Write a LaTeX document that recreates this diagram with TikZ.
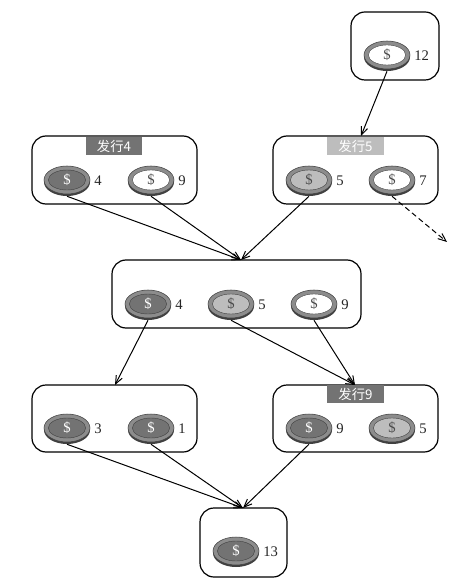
\documentclass[tikz,border=0pt]{standalone}
\usepackage{fontspec}
\setmainfont{Liberation Serif}
\newfontfamily\cjk{Noto Sans CJK SC}
\usetikzlibrary{shapes.geometric,arrows.meta}
\definecolor{darkfill}{gray}{0.45}
\definecolor{midfill}{gray}{0.74}
\definecolor{ringc}{gray}{0.55}
\definecolor{edgec}{gray}{0.25}
\tikzset{
  x=0.75pt,y=-0.75pt,
  block/.style={draw=black,line width=0.9pt,rounded corners=10.5pt,fill=white},
  banner/.style={minimum width=42.5pt,minimum height=13.5pt,inner sep=0pt,text=white,font=\cjk\fontsize{10}{12}\selectfont},
  coinbase/.style={ellipse,minimum width=34.5pt,minimum height=21pt,inner sep=0pt,fill=edgec},
  coinring/.style={ellipse,minimum width=34.5pt,minimum height=21pt,inner sep=0pt,fill=ringc,draw=edgec,line width=0.4pt},
  coinface/.style={ellipse,minimum width=28pt,minimum height=15pt,inner sep=0pt,draw=edgec,line width=0.3pt,font=\fontsize{11}{12}\selectfont},
  numlabel/.style={font=\fontsize{11}{12}\selectfont,text=black!85,inner sep=0pt},
  link/.style={draw=black,line width=0.75pt,-{Straight Barb[length=6pt,width=5pt]}},
  dashlink/.style={link,dashed,dash pattern=on 4pt off 2.5pt,-{Straight Barb[length=6pt,width=5pt,open]}}
}
% name, x, y, face colour, dollar colour, label
\newcommand{\coin}[6]{%
  \node[coinbase] (#1base) at (#2,#3+1) {};
  \node[coinring] (#1ring) at (#2,#3-1) {};
  \node[coinface,fill=#4,text=#5] (#1) at (#2,#3-1) {\$};
  \node[numlabel,anchor=west] (#1num) at (#2+27,#3) {#6};
}
\begin{document}
\begin{tikzpicture}
\useasboundingbox (0,0) rectangle (467,580);
\fill[white] (0,0) rectangle (467,580);
% blocks
\draw[block] (351,12) rectangle (439,80);
\draw[block] (32,136) rectangle (197,204);
\draw[block] (273,136) rectangle (438,204);
\draw[block] (112,260) rectangle (361,328);
\draw[block] (32,385) rectangle (197,452);
\draw[block] (273,385) rectangle (438,452);
\draw[block] (200,508) rectangle (287,577);
% banners
\node[banner,fill=darkfill] (b4) at (114,146) {发行4};
\node[banner,fill=midfill] (b5) at (355.5,146) {发行5};
\node[banner,fill=darkfill] (b9) at (355.5,394) {发行9};
% coins
\coin{c12}{387}{56}{white}{black!70}{12}
\coin{a4}{67}{181}{darkfill}{white}{4}
\coin{a9}{151}{181}{white}{black!70}{9}
\coin{a5}{309}{181}{midfill}{black!70}{5}
\coin{a7}{392}{181}{white}{black!70}{7}
\coin{m4}{148}{305}{darkfill}{white}{4}
\coin{m5}{231}{305}{midfill}{black!70}{5}
\coin{m9}{314}{305}{white}{black!70}{9}
\coin{l3}{67}{429}{darkfill}{white}{3}
\coin{l1}{151}{429}{darkfill}{white}{1}
\coin{r9}{309}{429}{darkfill}{white}{9}
\coin{r5}{392}{429}{midfill}{black!70}{5}
\coin{c13}{236}{552}{darkfill}{white}{13}
% connector ends
\coordinate (t5) at (361,136);
\coordinate (tm) at (241,260);
\coordinate (tl) at (115,385);
\coordinate (tr) at (355,385);
\coordinate (tb) at (243,508);
\coordinate (free) at (447,242);
% connectors
\draw[link] (c12base.south) -- (t5);
\draw[link] (a4base.south) -- (tm);
\draw[link] (a9base.south) -- (tm);
\draw[link] (a5base.south) -- (tm);
\draw[dashlink] (a7base.south) -- (free);
\draw[link] (m4base.south) -- (tl);
\draw[link] (m5base.south) -- (tr);
\draw[link] (m9base.south) -- (tr);
\draw[link] (l3base.south) -- (tb);
\draw[link] (l1base.south) -- (tb);
\draw[link] (r9base.south) -- (tb);
\end{tikzpicture}
\end{document}
